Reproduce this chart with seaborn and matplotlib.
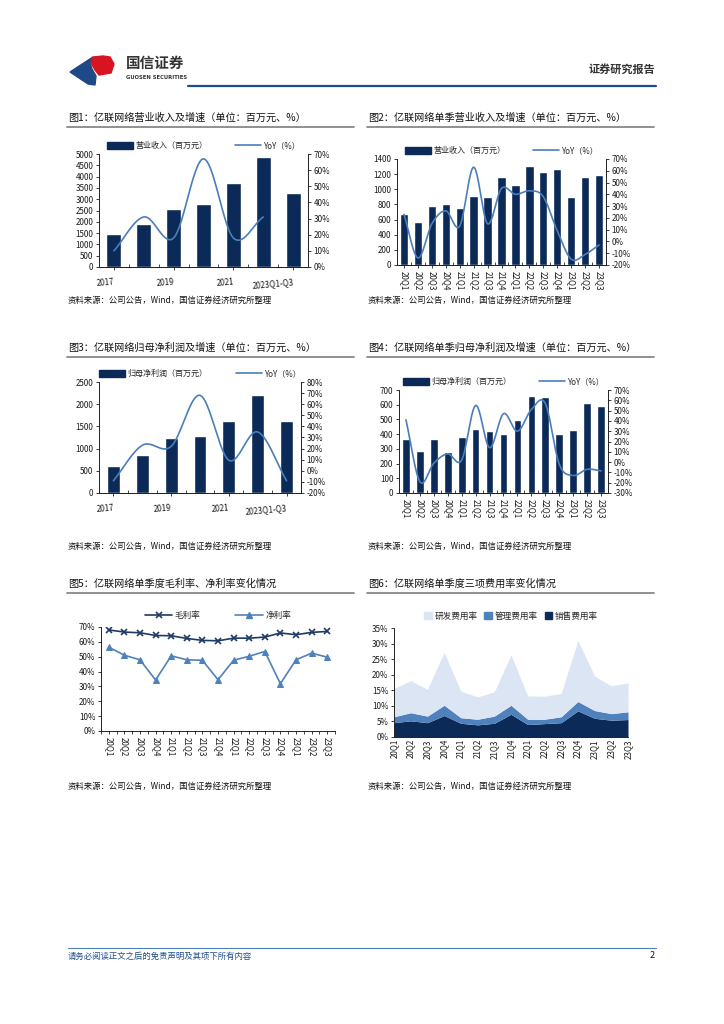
import numpy as np
import pandas as pd
import matplotlib
matplotlib.use("Agg")
import matplotlib.pyplot as plt
from matplotlib.lines import Line2D
from matplotlib.patches import Patch, Polygon
import seaborn as sns

sns.set_style("ticks")
plt.rcParams['font.family'] = ['Noto Sans CJK SC', 'DejaVu Sans']
plt.rcParams['axes.unicode_minus'] = False

# ---- data ----
years = ['2017', '2018', '2019', '2020', '2021', '2022', '2023Q1-Q3']
year_ticks = ['2017', '2019', '2021', '2023Q1-Q3']
quarters = ['20Q1', '20Q2', '20Q3', '20Q4', '21Q1', '21Q2', '21Q3', '21Q4',
            '22Q1', '22Q2', '22Q3', '22Q4', '23Q1', '23Q2', '23Q3']

rev_year = [1454, 1899, 2552, 2804, 3724, 4866, 3279]
rev_year_yoy = [10, 31, 18, 67, 18, 31]

rev_q = [671, 565, 773, 804, 755, 914, 892, 1166, 1060, 1307, 1232, 1267, 901, 1166, 1192]
rev_q_yoy = [23, -14, 15, 26, 13, 63, 15, 45, 40, 43, 38, 9, -15, -11, -3]

np_year = [612, 858, 1246, 1291, 1619, 2200, 1619]
np_year_yoy = [-9, 23, 22, 68, 9.5, 35, -9]

np_q = [370, 284, 370, 278, 381, 436, 420, 404, 494, 657, 652, 404, 427, 614, 591]
np_q_yoy = [41, -19, -1, 8, 2, 55, 14, 47, 30, 51, 57, -2, -13, -7, -8.5]

gross_margin = [68, 66.6, 66.1, 64.3, 64.1, 62.3, 61, 60.7, 62.5, 62.5, 63.2, 66, 64.8, 66.4, 67]
net_margin = [56.4, 51, 47.9, 34.3, 50.6, 47.9, 47.6, 34.5, 47.6, 50.3, 53.5, 31.8, 47.9, 52.4, 49.7]

sales_rate = [4.6, 5.2, 4.6, 6.9, 4.4, 3.9, 4.4, 7.3, 4.0, 4.3, 4.6, 8.4, 6.0, 5.4, 5.6]
admin_rate = [1.9, 2.6, 2.1, 3.3, 1.8, 1.8, 2.3, 2.9, 1.7, 1.4, 1.9, 3.0, 2.5, 2.1, 2.5]
rd_rate = [9.1, 10.3, 8.6, 17.0, 8.5, 7.2, 7.8, 16.2, 7.5, 7.4, 7.5, 19.6, 11.1, 8.9, 9.3]

NAVY = '#0b2a57'
LINE = '#4a7ebb'
MID = '#4f81bd'
LIGHT = '#dce5f4'
TXT = '#1a1a1a'
FS = 5.8

W, H = 724, 1024
fig = plt.figure(figsize=(W / 100, H / 100), dpi=100)


def fx(x):
    return x / W


def fy(y):
    return 1 - y / H


def box(l, t, r, b):
    return [fx(l), fy(b), (r - l) / W, (b - t) / H]


def hline(x0, x1, y, color, lw):
    fig.add_artist(Line2D([fx(x0), fx(x1)], [fy(y), fy(y)], color=color, lw=lw,
                          transform=fig.transFigure))


def smooth(vals, n=24):
    # Catmull-Rom curve through the points (like Excel smoothed lines)
    y = np.asarray(vals, float)
    p = np.concatenate([[2 * y[0] - y[1]], y, [2 * y[-1] - y[-2]]])
    xs, ys = [], []
    t = np.linspace(0, 1, n, endpoint=False)
    for i in range(len(y) - 1):
        p0, p1, p2, p3 = p[i], p[i + 1], p[i + 2], p[i + 3]
        ys.append(0.5 * (2 * p1 + (-p0 + p2) * t + (2 * p0 - 5 * p1 + 4 * p2 - p3) * t ** 2
                         + (-p0 + 3 * p1 - 3 * p2 + p3) * t ** 3))
        xs.append(i + t)
    xs.append([len(y) - 1])
    ys.append([y[-1]])
    return np.concatenate(xs), np.concatenate(ys)


def pct(ax, ticks):
    ax.set_yticks(ticks)
    ax.set_yticklabels([f'{v}%' for v in ticks])


def style(ax):
    ax.tick_params(labelsize=FS, length=2.5, width=0.6, colors=TXT, pad=1.5)
    for s in ax.spines.values():
        s.set_linewidth(0.7)
        s.set_color('#222222')
    ax.set_xlabel('')
    ax.set_ylabel('')


def bar_line(rect, cats, bars, yoy, bar_w, ylim, ystep, rlim, rstep, bar_label, xlabels, rot):
    ax = fig.add_axes(rect)
    df = pd.DataFrame({'cat': cats, 'val': bars})
    sns.barplot(data=df, x='cat', y='val', color=NAVY, width=bar_w, saturation=1, ax=ax)
    ax.set_ylim(*ylim)
    ax.set_yticks(np.arange(ylim[0], ylim[1] + 1, ystep))
    n = len(cats)
    ax.set_xlim(-0.5, n - 0.5)
    ax.spines['top'].set_visible(False)
    ax.spines['right'].set_visible(False)
    ax.set_xticks(np.arange(-0.5, n, 1.0), minor=True)
    ax.tick_params(axis='x', which='minor', direction='in', length=2, width=0.6)
    ax.tick_params(axis='x', which='major', length=0)
    style(ax)
    ax2 = ax.twinx()
    xs, ys = smooth(yoy)
    sns.lineplot(x=xs, y=ys, ax=ax2, color=LINE, lw=1.2, sort=False, estimator=None)
    ax2.set_ylim(*rlim)
    pct(ax2, list(range(rlim[0], rlim[1] + 1, rstep)))
    ax2.spines['top'].set_visible(False)
    ax2.spines['left'].set_visible(False)
    style(ax2)
    if xlabels is None:
        ax.set_xticks(range(n))
        ax.set_xticklabels(cats, rotation=rot, fontsize=FS)
    else:
        pos, labs = xlabels
        ax.set_xticks(pos)
        ax.set_xticklabels(labs, rotation=rot, ha='right', rotation_mode='anchor', fontsize=FS)
        ax.tick_params(axis='x', which='major', pad=5)
    handles = [Patch(color=NAVY), Line2D([], [], color=LINE, lw=1.2)]
    ax.legend(handles, [bar_label, 'YoY（%）'], ncol=2, loc='lower center',
              bbox_to_anchor=(0.5, 1.0), frameon=False, fontsize=FS, handlelength=3.2,
              handleheight=0.9, columnspacing=3.5, borderaxespad=0.1, handletextpad=0.3)
    return ax


# ---- header ----
blue_logo = [(70, 72), (93, 57), (90, 63), (92, 69), (96, 76), (95, 85), (88, 84)]
red_logo = [(93, 57), (103, 56), (110, 57), (114, 64), (111, 73), (99, 75), (95, 70), (91, 63)]
fig.add_artist(Polygon([(fx(a), fy(b)) for a, b in blue_logo], closed=True, color='#1d4a86',
                       transform=fig.transFigure))
fig.add_artist(Polygon([(fx(a), fy(b)) for a, b in red_logo], closed=True, color='#d7141f',
                       transform=fig.transFigure))
fig.text(fx(126), fy(63), '国信证券', fontsize=10.5, color='#333333', va='center', weight='bold')
fig.text(fx(126), fy(77.5), 'GUOSEN SECURITIES', fontsize=3.8, color='#333333', va='center',
         weight='bold', family='DejaVu Sans')
fig.text(fx(655), fy(69), '证券研究报告', fontsize=8, color='#333333', va='center', ha='right',
         weight='bold')
hline(188, 656, 86, '#1f4e8c', 1.6)

# ---- titles / sources ----
titles = [
    (68, 118, '图1：亿联网络营业收入及增速（单位：百万元、%）'),
    (368, 118, '图2：亿联网络单季营业收入及增速（单位：百万元、%）'),
    (68, 348, '图3：亿联网络归母净利润及增速（单位：百万元、%）'),
    (368, 348, '图4：亿联网络单季归母净利润及增速（单位：百万元、%）'),
    (68, 584, '图5：亿联网络单季度毛利率、净利率变化情况'),
    (368, 584, '图6：亿联网络单季度三项费用率变化情况'),
]
for x, y, s in titles:
    fig.text(fx(x), fy(y), s, fontsize=7.3, color='#111111', va='center')
    hline(x - 1, x + 286, y + 9, '#888888', 1.3)

src = '资料来源：公司公告，Wind，国信证券经济研究所整理'
for y in (300, 546, 786):
    for x in (68, 368):
        fig.text(fx(x), fy(y), src, fontsize=6, color='#111111', va='center')

# ---- chart 1 ----
bar_line(box(99, 154, 308, 267), years, rev_year, rev_year_yoy, 0.5, (0, 5000), 500,
         (0, 70), 10, '营业收入（百万元）', ([0, 2, 4, 6], year_ticks), 5)

# ---- chart 2 ----
bar_line(box(397, 159, 606, 265), quarters, rev_q, rev_q_yoy, 0.6, (0, 1400), 200,
         (-20, 70), 10, '营业收入（百万元）', None, -90)

# ---- chart 3 ----
bar_line(box(99, 382, 301, 493), years, np_year, np_year_yoy, 0.45, (0, 2500), 500,
         (-20, 80), 10, '归母净利润（百万元）', ([0, 2, 4, 6], year_ticks), 5)

# ---- chart 4 ----
bar_line(box(399, 390, 608, 493), quarters, np_q, np_q_yoy, 0.55, (0, 700), 100,
         (-30, 70), 10, '归母净利润（百万元）', None, -90)

# ---- chart 5 ----
ax5 = fig.add_axes(box(101, 627, 335, 731))
xq = np.arange(len(quarters))
sns.lineplot(x=xq, y=gross_margin, ax=ax5, color='#1f3a68', lw=1.2, marker='x', ms=5,
             mew=1.2, mec='#1f3a68')
sns.lineplot(x=xq, y=net_margin, ax=ax5, color=MID, lw=1.2, marker='^', ms=5, mec=MID)
ax5.set_xlim(-0.5, len(quarters) - 0.5)
ax5.set_ylim(0, 70)
pct(ax5, list(range(0, 71, 10)))
ax5.set_xticks(xq)
ax5.set_xticklabels(quarters, rotation=-90, fontsize=FS)
ax5.set_xticks(np.arange(-0.5, len(quarters), 1.0), minor=True)
ax5.tick_params(axis='x', which='minor', length=2.5, width=0.6)
ax5.tick_params(axis='x', which='major', length=0)
ax5.spines['top'].set_visible(False)
ax5.spines['right'].set_visible(False)
style(ax5)
h5 = [Line2D([], [], color='#1f3a68', lw=1.2, marker='x', ms=5, mew=1.2),
      Line2D([], [], color=MID, lw=1.2, marker='^', ms=5)]
ax5.legend(h5, ['毛利率', '净利率'], ncol=2, loc='lower center', bbox_to_anchor=(0.5, 1.03),
           frameon=False, fontsize=FS + 0.4, handlelength=3.2, columnspacing=4,
           borderaxespad=0.1, handletextpad=0.3)

# ---- chart 6 ----
ax6 = fig.add_axes(box(394, 628, 628, 737))
ax6.stackplot(xq, sales_rate, admin_rate, rd_rate, colors=[NAVY, MID, LIGHT], lw=0)
ax6.set_xlim(0, len(quarters) - 1)
ax6.set_ylim(0, 35)
pct(ax6, list(range(0, 36, 5)))
ax6.set_xticks(xq)
ax6.set_xticklabels(quarters, rotation=90, fontsize=FS)
ax6.spines['top'].set_visible(False)
ax6.spines['right'].set_visible(False)
style(ax6)
ax6.tick_params(axis='x', length=0)
h6 = [Patch(color=LIGHT), Patch(color=MID), Patch(color=NAVY)]
ax6.legend(h6, ['研发费用率', '管理费用率', '销售费用率'], ncol=3, loc='lower center',
           bbox_to_anchor=(0.5, 1.03), frameon=False, fontsize=FS + 0.4, handlelength=0.9,
           handleheight=0.9, columnspacing=0.8, borderaxespad=0.1, handletextpad=0.3)

# ---- footer ----
hline(68, 656, 948, '#4f81bd', 0.8)
fig.text(fx(68), fy(956), '请务必阅读正文之后的免责声明及其项下所有内容', fontsize=6,
         color='#1f4e8c', va='center', style='italic')
fig.text(fx(655), fy(956), '2', fontsize=6.5, color='#111111', va='center', ha='right')

fig.savefig('out.png', dpi=100)
